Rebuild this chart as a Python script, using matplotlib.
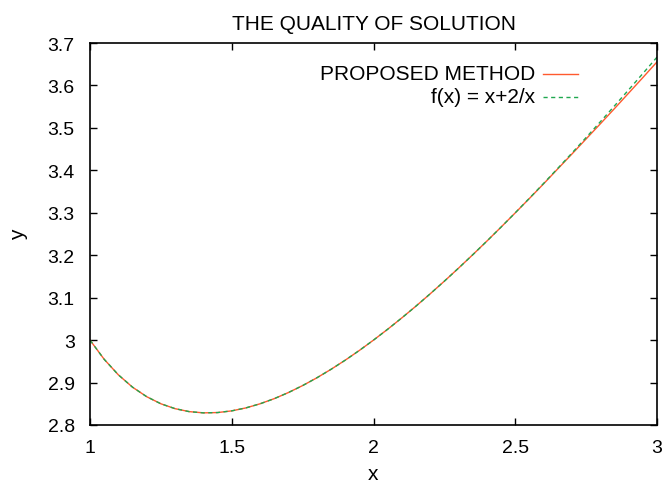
import matplotlib
matplotlib.use("Agg")
import matplotlib.pyplot as plt
from matplotlib.lines import Line2D
from matplotlib.ticker import FuncFormatter, MultipleLocator

plt.rcParams['font.family'] = ['Liberation Sans', 'DejaVu Sans']

# values
x = [1.00, 1.05, 1.10, 1.15, 1.20, 1.25, 1.30, 1.35, 1.40, 1.45, 1.50,
     1.55, 1.60, 1.65, 1.70, 1.75, 1.80, 1.85, 1.90, 1.95, 2.00,
     2.05, 2.10, 2.15, 2.20, 2.25, 2.30, 2.35, 2.40, 2.45, 2.50,
     2.55, 2.60, 2.65, 2.70, 2.75, 2.80, 2.85, 2.90, 2.95, 3.00]
y_exact = [3.0000, 2.9548, 2.9182, 2.8891, 2.8667, 2.8500, 2.8385, 2.8315, 2.8286, 2.8293, 2.8333,
           2.8403, 2.8500, 2.8621, 2.8765, 2.8929, 2.9111, 2.9311, 2.9526, 2.9756, 3.0000,
           3.0256, 3.0524, 3.0802, 3.1091, 3.1389, 3.1696, 3.2011, 3.2333, 3.2663, 3.3000,
           3.3343, 3.3692, 3.4047, 3.4407, 3.4773, 3.5143, 3.5518, 3.5897, 3.6280, 3.6667]
y_proposed = [3.0000, 2.9548, 2.9182, 2.8891, 2.8667, 2.8500, 2.8385, 2.8315, 2.8286, 2.8293, 2.8333,
              2.8403, 2.8500, 2.8621, 2.8765, 2.8929, 2.9111, 2.9311, 2.9526, 2.9756, 3.0000,
              3.0256, 3.0524, 3.0802, 3.1091, 3.1389, 3.1696, 3.2011, 3.2333, 3.2663, 3.2998,
              3.3338, 3.3682, 3.4035, 3.4385, 3.4740, 3.5095, 3.5455, 3.5820, 3.6185, 3.6555]
labels = ["PROPOSED METHOD", "f(x) = x+2/x"]
c_red = '#ff5a2e'
c_green = '#1fa84f'

fig = plt.figure(figsize=(6.64, 4.89), dpi=100)
ax = fig.add_axes([90/664, (489-426)/489, (657-90)/664, (426-44)/489])

dash = (0, (3, 2.5))
ax.plot(x, y_proposed, color=c_red, lw=1.0)
ax.plot(x, y_exact, color=c_green, lw=1.0, ls=dash)

ax.set_xlim(1, 3)
ax.set_ylim(2.8, 3.7)
ax.xaxis.set_major_locator(MultipleLocator(0.5))
ax.yaxis.set_major_locator(MultipleLocator(0.1))
fmt = FuncFormatter(lambda v, p: '%g' % round(v, 3))
ax.xaxis.set_major_formatter(fmt)
ax.yaxis.set_major_formatter(fmt)
ax.tick_params(direction='in', length=5, width=1, labelsize=14,
               top=True, right=True, color='black')
ax.tick_params(axis='x', pad=10)
ax.tick_params(axis='y', pad=11)
for s in ax.spines.values():
    s.set_linewidth(1.2)

ax.set_title("THE QUALITY OF SOLUTION", fontsize=15, pad=10)
ax.set_xlabel("x", fontsize=15, labelpad=6)
ax.set_ylabel("y", fontsize=15, labelpad=14)

# gnuplot-style key: text right aligned, sample line to the right
rows = [(0.919, c_red, '-'), (0.859, c_green, dash)]
for (yy, c, ls), lab in zip(rows, labels):
    ax.text(0.785, yy, lab, transform=ax.transAxes, ha='right', va='center', fontsize=15)
    ax.add_line(Line2D([0.799, 0.861], [yy, yy], transform=ax.transAxes,
                       color=c, lw=1.0, ls=ls))

plt.savefig('out.png', dpi=100)
